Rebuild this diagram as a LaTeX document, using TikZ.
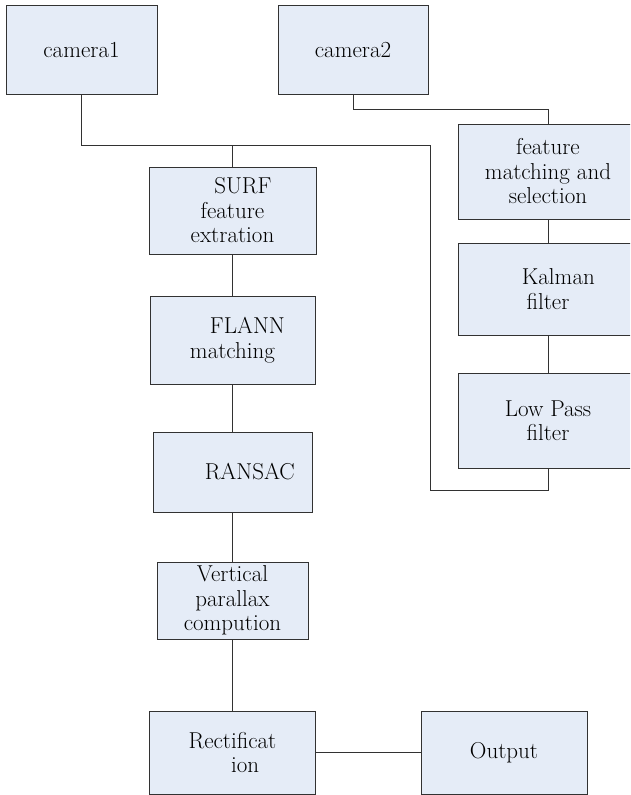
\documentclass[tikz,border=0pt]{standalone}
\usepackage{tikz}
\usetikzlibrary{calc}

\definecolor{boxfill}{RGB}{229,236,247}
\definecolor{boxline}{RGB}{50,50,50}

\tikzset{
    stage/.style={draw=boxline, fill=boxfill, line width=0.9pt, align=center,
        inner sep=0pt, font=\fontsize{23}{24.5}\selectfont},
    wire/.style={draw=boxline, line width=0.9pt}
}

\begin{document}
\begin{tikzpicture}[x=1pt, y=-1pt]
                \clip (0,0) rectangle (630,795);
                % top inputs
                \node[stage, minimum width=151pt, minimum height=89pt] (cam1) at (81.5,49.5) {camera1};
                \node[stage, minimum width=150pt, minimum height=89pt] (cam2) at (353,49.5) {camera2};
                % left column
                \node[stage, minimum width=167pt, minimum height=87pt] (surf) at (232.5,210.5) {\hspace{0.9em}SURF\\feature\\extration};
                \node[stage, minimum width=165pt, minimum height=88pt] (flann) at (232.5,340) {\hspace{1.3em}FLANN\\matching};
                \node[stage, minimum width=159pt, minimum height=80pt] (ransac) at (232.5,472) {\hspace{1.5em}RANSAC};
                \node[stage, minimum width=151pt, minimum height=77pt] (vert) at (232.5,600.5) {Vertical\\parallax\\compution};
                \node[stage, minimum width=166pt, minimum height=83pt] (rect) at (232.5,752.5) {Rectificat\\\hspace{1.1em}ion};
                \node[stage, minimum width=166pt, minimum height=83pt] (out) at (504,752.5) {Output};
                % right column
                \node[stage, minimum width=180pt, minimum height=95pt] (feat) at (548,171.5) {feature\\matching and\\selection};
                \node[stage, minimum width=180pt, minimum height=92pt] (kalman) at (548,289) {\hspace{0.9em}Kalman\\filter};
                \node[stage, minimum width=180pt, minimum height=95pt] (lowpass) at (548,420.5) {Low Pass\\filter};
                % junctions
                \coordinate (bus) at (430,145);
                \coordinate (back) at (430,490);
                \coordinate (top2) at (548,109);
                % connectors
                \draw[wire] (cam1.south) |- (bus);
                \draw[wire] (surf.north) -- (surf.north |- bus);
                \draw[wire] (bus) -- (back) -| (lowpass.south);
                \draw[wire] (cam2.south) |- (top2) -- (feat.north);
                \draw[wire] (feat.south) -- (kalman.north);
                \draw[wire] (kalman.south) -- (lowpass.north);
                \draw[wire] (surf.south) -- (flann.north);
                \draw[wire] (flann.south) -- (ransac.north);
                \draw[wire] (ransac.south) -- (vert.north);
                \draw[wire] (vert.south) -- (rect.north);
                \draw[wire] (rect.east) -- (out.west);
            \end{tikzpicture}
\end{document}
